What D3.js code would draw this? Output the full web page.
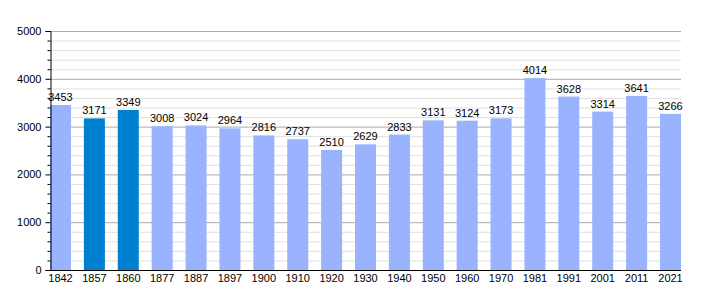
<!DOCTYPE html>
<html><head><meta charset="utf-8">
<script src="https://cdn.jsdelivr.net/npm/d3@7"></script>
<style>body{margin:0;background:#fff}text{font-family:"Liberation Sans",Arial,sans-serif}</style>
</head><body><svg id="c" width="710" height="300"></svg>
<script>
const years = ["1842","1857","1860","1877","1887","1897","1900","1910","1920","1930","1940","1950","1960","1970","1981","1991","2001","2011","2021"];
const population = [3453,3171,3349,3008,3024,2964,2816,2737,2510,2629,2833,3131,3124,3173,4014,3628,3314,3641,3266];
const highlighted = ["1857","1860"];
const yTicks = [0,1000,2000,3000,4000,5000];

(function(){
const svg = d3.select("#c");
const pLeft = 50, pRight = 681, pTop = 31, pBottom = 270;
const x = d3.scaleBand().domain(years).range([pLeft, pRight]).paddingInner(0.38).paddingOuter(0);
const y = d3.scaleLinear().domain([0,5000]).range([pBottom, pTop]);

const minor = d3.range(0, 5001, 200).filter(v => v % 1000 !== 0);
svg.append("g").selectAll("line").data(minor).join("line")
  .attr("x1", pLeft).attr("x2", pRight).attr("y1", d => y(d)+0.5).attr("y2", d => y(d)+0.5)
  .attr("stroke", "#e0e0e0").attr("stroke-width", 1);
svg.append("g").selectAll("line").data(yTicks.filter(v=>v>0)).join("line")
  .attr("x1", pLeft).attr("x2", pRight).attr("y1", d => y(d)+0.5).attr("y2", d => y(d)+0.5)
  .attr("stroke", "#aaaaaa").attr("stroke-width", 1);

svg.append("g").selectAll("rect").data(population).join("rect")
  .attr("x", (d,i) => x(years[i])).attr("width", x.bandwidth())
  .attr("y", d => y(d)).attr("height", d => pBottom - y(d))
  .attr("fill", (d,i) => highlighted.includes(years[i]) ? "#0080d0" : "#99b3ff");

svg.append("g").selectAll("text").data(population).join("text")
  .attr("x", (d,i) => x(years[i]) + x.bandwidth()/2).attr("y", d => y(d) - 4)
  .attr("text-anchor", "middle").attr("font-size", 11).attr("fill", "#000").text(d => d);

const ya = svg.append("g").attr("transform", `translate(${pLeft+0.5},0)`)
  .call(d3.axisLeft(y).tickValues(yTicks).tickSize(5).tickFormat(d3.format("d")));
ya.select(".domain").attr("stroke", "#000");
ya.selectAll("text").attr("font-size", 11).attr("font-family", "Liberation Sans, Arial, sans-serif").attr("x", -9);
svg.append("g").attr("transform", `translate(${pLeft+0.5},0)`).selectAll("line").data(minor).join("line")
  .attr("x1", -3).attr("x2", 0).attr("y1", d => y(d)+0.5).attr("y2", d => y(d)+0.5).attr("stroke", "#000");

const xa = svg.append("g").attr("transform", `translate(0,${pBottom+0.5})`)
  .call(d3.axisBottom(x).tickSize(0).tickPadding(4));
xa.select(".domain").attr("stroke", "#000").attr("d", `M${pLeft},0H${pRight}`);
xa.selectAll("text").attr("font-size", 11).attr("font-family", "Liberation Sans, Arial, sans-serif");
})();
</script></body></html>
